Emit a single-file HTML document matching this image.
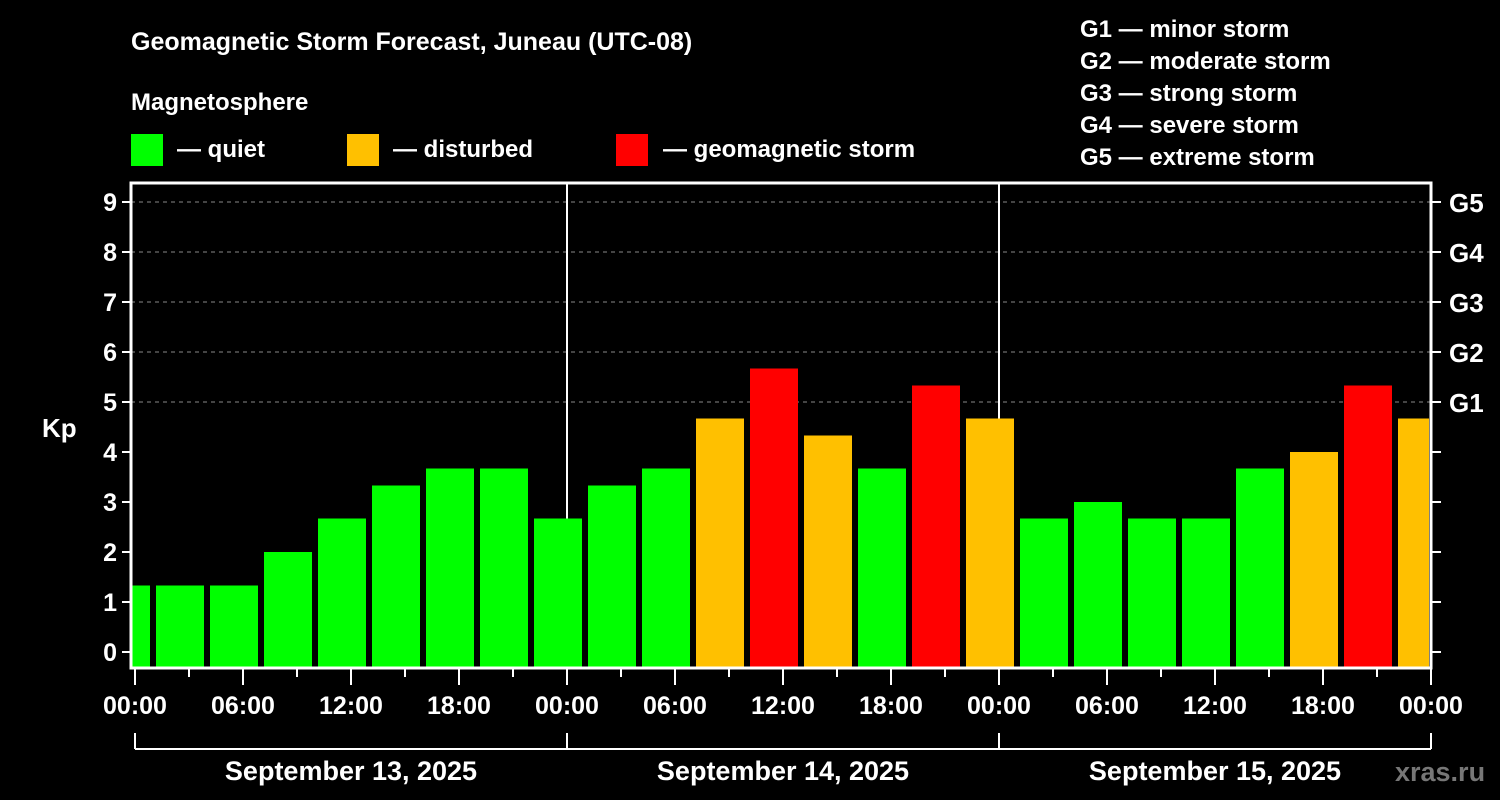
<!DOCTYPE html>
<html><head><meta charset="utf-8"><style>
html,body{margin:0;padding:0;background:#000;}
svg{display:block;font-family:"Liberation Sans",Arial,sans-serif;font-weight:bold;}
</style></head><body>
<svg id="chart" width="1500" height="800" viewBox="0 0 1500 800">
<text x="131" y="50" fill="#fff" font-size="25">Geomagnetic Storm Forecast, Juneau (UTC-08)</text>
<text x="131" y="110" fill="#fff" font-size="24">Magnetosphere</text>
<g><rect x="131" y="134" width="32" height="32" fill="#00ff00"/><text x="177" y="157" fill="#fff" font-size="24">— quiet</text></g>
<g><rect x="347" y="134" width="32" height="32" fill="#ffc000"/><text x="393" y="157" fill="#fff" font-size="24">— disturbed</text></g>
<g><rect x="616" y="134" width="32" height="32" fill="#ff0000"/><text x="663" y="157" fill="#fff" font-size="24">— geomagnetic storm</text></g>
<g fill="#fff" font-size="24">
<text x="1080" y="37">G1 — minor storm</text>
<text x="1080" y="69">G2 — moderate storm</text>
<text x="1080" y="101">G3 — strong storm</text>
<text x="1080" y="133">G4 — severe storm</text>
<text x="1080" y="165">G5 — extreme storm</text>
</g>
<text x="42" y="437" fill="#fff" font-size="26">Kp</text>
<g id="grid"></g>
<g id="bars"></g>
<g id="axes"></g>
<text x="1395" y="781" fill="#777" font-size="27">xras.ru</text>
</svg>
<script>
const kpValues = [1.33,1.33,1.33,2,2.67,3.33,3.67,3.67,2.67,3.33,3.67,4.67,5.67,4.33,3.67,5.33,4.67,2.67,3,2.67,2.67,3.67,4,5.33,4.67];
const yTicks = [0,1,2,3,4,5,6,7,8,9];
const gLabels = ["G1","G2","G3","G4","G5"];
const gLevels = [5,6,7,8,9];
const dayLabels = ["September 13, 2025","September 14, 2025","September 15, 2025"];
const hourLabels = ["00:00","06:00","12:00","18:00"];

const NS="http://www.w3.org/2000/svg";
const L=131,R=1431,T=183,B=668;
const x0=135, pxPerHour=18;
function xH(h){return x0+h*pxPerHour;}
function yV(v){return 652-50*v;}
function mk(tag,attrs,parent){const e=document.createElementNS(NS,tag);for(const k in attrs)e.setAttribute(k,attrs[k]);parent.appendChild(e);return e;}
const grid=document.getElementById('grid'),bars=document.getElementById('bars'),axes=document.getElementById('axes');

// clip
const defs=mk('defs',{},document.getElementById('chart'));
const cp=mk('clipPath',{id:'plotclip'},defs);
mk('rect',{x:L+1,y:T,width:R-L-3,height:B-T},cp);
bars.setAttribute('clip-path','url(#plotclip)');

gLevels.forEach(v=>{
  const l=mk('line',{x1:L,x2:R,y1:yV(v),y2:yV(v),stroke:'#888','stroke-dasharray':'4,4','stroke-width':1},grid);
  
  
});
for(let d=1;d<3;d++){
  const l=mk('line',{x1:xH(24*d),x2:xH(24*d),y1:T,y2:B,stroke:'#fff','stroke-width':2},grid);
  
  
}
kpValues.forEach((v,i)=>{
  const c=xH(-0.5+3*i);
  const col=v>=5?'#ff0000':(v>=4?'#ffc000':'#00ff00');
  const r=mk('rect',{x:c-24,y:yV(v),width:48,height:B-yV(v),fill:col},bars);
  
  
});
// frame
const f=mk('rect',{x:L,y:T,width:R-L,height:B-T,fill:'none',stroke:'#fff','stroke-width':3},axes);


yTicks.forEach(v=>{
  mk('line',{x1:L-9,x2:L,y1:yV(v),y2:yV(v),stroke:'#fff','stroke-width':2},axes);
  mk('line',{x1:R,x2:R+10,y1:yV(v),y2:yV(v),stroke:'#fff','stroke-width':2},axes);
  const t=mk('text',{x:L-14,y:yV(v)+9,fill:'#fff','font-size':25,'text-anchor':'end'},axes);
  t.textContent=v;
  
  
});
gLabels.forEach((g,i)=>{
  const t=mk('text',{x:1449,y:yV(gLevels[i])+10,fill:'#fff','font-size':26},axes);
  t.textContent=g;
  
  
});
for(let h=0;h<=72;h+=3){
  const major=h%6===0;
  mk('line',{x1:xH(h),x2:xH(h),y1:B,y2:major?B+17:B+9,stroke:'#fff','stroke-width':2},axes);
  if(h%6===0){
    const t=mk('text',{x:xH(h),y:714,fill:'#fff','font-size':25,'text-anchor':'middle'},axes);
    t.textContent=hourLabels[(h/6)%4];
    
    
  }
}
mk('line',{x1:xH(0),x2:xH(72),y1:749,y2:749,stroke:'#fff','stroke-width':2},axes);
for(let d=0;d<=3;d++) mk('line',{x1:xH(24*d),x2:xH(24*d),y1:733,y2:749,stroke:'#fff','stroke-width':2},axes);
dayLabels.forEach((s,d)=>{
  const t=mk('text',{x:xH(24*d+12),y:780,fill:'#fff','font-size':27,'text-anchor':'middle'},axes);
  t.textContent=s;
  
  
});
</script>
</body></html>
